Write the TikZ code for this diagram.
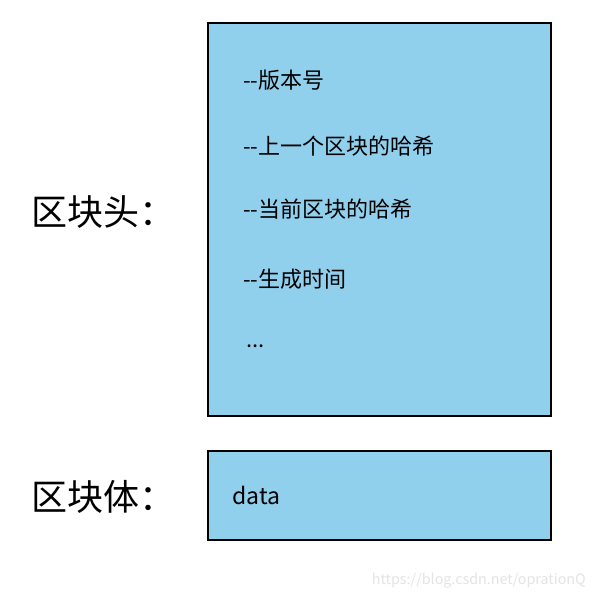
\documentclass[tikz,border=0pt]{standalone}
\usepackage{fontspec}
\setmainfont{Noto Sans CJK SC}
\definecolor{boxblue}{RGB}{144,208,237}
\definecolor{wm}{RGB}{228,228,228}
\begin{document}
\begin{tikzpicture}[x=1pt,y=-1pt,
  blockbox/.style={draw=black,fill=boxblue,line width=2.2pt},
  item/.style={anchor=west,inner sep=0pt,font=\fontsize{22}{26}\selectfont},
  biglabel/.style={anchor=west,inner sep=0pt,font=\fontsize{36}{40}\selectfont}]
\useasboundingbox (0,0) rectangle (595,599);
\fill[white] (0,0) rectangle (595,599);
\draw[blockbox] (208,23) rectangle (551,416);
\draw[blockbox] (208,451) rectangle (551,540);
\node[item] (t1) at (243,80) {-{}-版本号};
\node[item] (t2) at (243,146) {-{}-上一个区块的哈希};
\node[item] (t3) at (243,209) {-{}-当前区块的哈希};
\node[item] (t4) at (243,279) {-{}-生成时间};
\node[item] (t5) at (246,346) {...};
\node[item,font=\fontsize{23}{26}\selectfont] (d) at (232,495) {data};
\node[biglabel] (h) at (31,212) {区块头：};
\node[biglabel] (b) at (31,497) {区块体：};
\node[anchor=east,inner sep=0pt,text=wm,font=\fontsize{14.3}{17}\selectfont] (w) at (586,581) {https://blog.csdn.net/oprationQ};
\end{tikzpicture}
\end{document}
